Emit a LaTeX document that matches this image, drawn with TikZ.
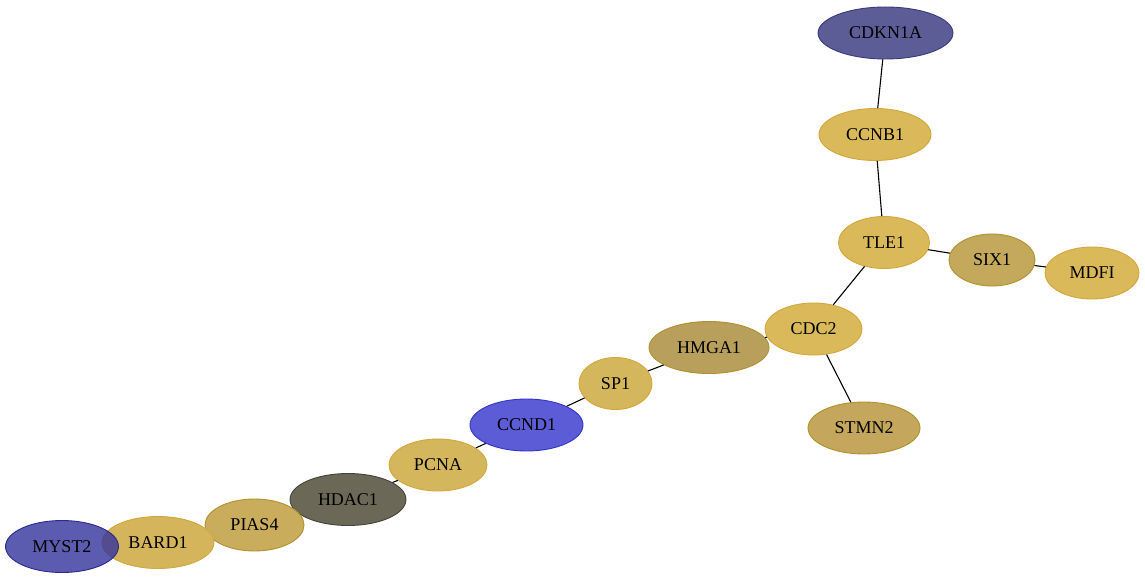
\documentclass[tikz,border=0pt]{standalone}
\usepackage{fontspec}
\setmainfont{Liberation Serif}
\usetikzlibrary{shapes.geometric}
\definecolor{gold}{HTML}{D9B95A}
\definecolor{goldb}{HTML}{D2A83A}
\definecolor{sixc}{HTML}{C4A85C}
\definecolor{hmgc}{HTML}{B89F5C}
\definecolor{stmc}{HTML}{C4A75C}
\definecolor{spc}{HTML}{D4B65C}
\definecolor{piasc}{HTML}{C9AC5C}
\definecolor{bardc}{HTML}{D4B55C}
\definecolor{darkb}{HTML}{B0922E}
\definecolor{cdkc}{HTML}{5C5C96}
\definecolor{cdkb}{HTML}{3A3A80}
\definecolor{ccndc}{HTML}{5C5CD6}
\definecolor{ccndb}{HTML}{3333CC}
\definecolor{hdacc}{HTML}{6B6858}
\definecolor{hdacb}{HTML}{45433A}
\definecolor{mystc}{HTML}{33339C}
\definecolor{mystb}{HTML}{2A2A90}
\tikzset{
  gene/.style={ellipse, inner sep=0pt, line width=0.9pt, font=\fontsize{18}{20}\selectfont},
  link/.style={line width=1.1pt, black},
}
\begin{document}
\begin{tikzpicture}[x=1pt,y=-1pt]
\useasboundingbox (0,0) rectangle (1145,580);
\fill[white] (0,0) rectangle (1145,580);
% nodes
\node[gene, fill=cdkc, draw=cdkb, minimum width=135pt, minimum height=52pt] (cdkn1a) at (885.5,33) {CDKN1A};
\node[gene, fill=gold, draw=goldb, minimum width=112pt, minimum height=52pt] (ccnb1) at (875,134.5) {CCNB1};
\node[gene, fill=gold, draw=goldb, minimum width=91pt, minimum height=52pt] (tle1) at (884,242.5) {TLE1};
\node[gene, fill=sixc, draw=darkb, minimum width=86pt, minimum height=52pt] (six1) at (992,260) {SIX1};
\node[gene, fill=gold, draw=goldb, minimum width=94pt, minimum height=52pt] (mdfi) at (1092,273) {MDFI};
\node[gene, fill=gold, draw=goldb, minimum width=97pt, minimum height=52pt] (cdc2) at (813.5,329) {CDC2};
\node[gene, fill=hmgc, draw=darkb, minimum width=120pt, minimum height=52pt] (hmga1) at (709,347.5) {HMGA1};
\node[gene, fill=stmc, draw=darkb, minimum width=112pt, minimum height=52pt] (stmn2) at (864,428) {STMN2};
\node[gene, fill=spc, draw=goldb, minimum width=73pt, minimum height=52pt] (sp1) at (615.5,383.5) {SP1};
\node[gene, fill=ccndc, draw=ccndb, minimum width=113pt, minimum height=52pt] (ccnd1) at (526.5,425) {CCND1};
\node[gene, fill=spc, draw=goldb, minimum width=98pt, minimum height=52pt] (pcna) at (438,465) {PCNA};
\node[gene, fill=hdacc, draw=hdacb, minimum width=116pt, minimum height=52pt] (hdac1) at (348,499.5) {HDAC1};
\node[gene, fill=piasc, draw=darkb, minimum width=99pt, minimum height=52pt] (pias4) at (254.5,525) {PIAS4};
\node[gene, fill=bardc, draw=goldb, minimum width=112pt, minimum height=52pt] (bard1) at (158,542.5) {BARD1};
\node[gene, fill=mystc, fill opacity=0.8, text opacity=1, draw=mystb, minimum width=113pt, minimum height=52pt] (myst2) at (62,546.5) {MYST2};
% edges
\draw[link] (cdkn1a) -- (ccnb1);
\draw[link] (ccnb1) -- (tle1);
\draw[link] (tle1) -- (six1);
\draw[link] (six1) -- (mdfi);
\draw[link] (tle1) -- (cdc2);
\draw[link] (cdc2) -- (stmn2);
\draw[link] (cdc2) -- (hmga1);
\draw[link] (hmga1) -- (sp1);
\draw[link] (sp1) -- (ccnd1);
\draw[link] (ccnd1) -- (pcna);
\draw[link] (pcna) -- (hdac1);
\end{tikzpicture}
\end{document}
